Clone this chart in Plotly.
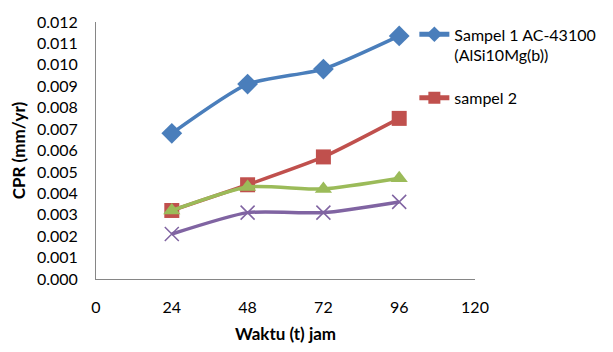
import plotly.graph_objects as go

# Exposure time (hours)
waktu = [24, 48, 72, 96]

# Corrosion penetration rate (mm/yr) per sample
sampel_1 = [0.0068, 0.0091, 0.0098, 0.01135]
sampel_2 = [0.0032, 0.0044, 0.0057, 0.0075]
sampel_3 = [0.0032, 0.0043, 0.0042, 0.0047]
sampel_4 = [0.0021, 0.0031, 0.0031, 0.0036]

names = ["Sampel 1 AC-43100<br>(AlSi10Mg(b))", "sampel 2", "sampel 3", "sampel 4"]
colors = ["#4A7EBB", "#C0504D", "#9BBB59", "#8064A2"]
symbols = ["diamond", "square", "triangle-up", "x-thin"]
sizes = [16, 15, 15, 14]
show = [True, True, False, False]

fig = go.Figure()
for i, (ys, name, c, s, sz, sl) in enumerate(zip(
        [sampel_1, sampel_2, sampel_3, sampel_4],
        names, colors, symbols, sizes, show)):
    marker = dict(symbol=s, size=sz, color=c)
    if s == "x-thin":
        marker["line"] = dict(color=c, width=1.5)
    fig.add_trace(go.Scatter(
        x=waktu, y=ys, name=name, mode="lines+markers",
        line=dict(color=c, width=3.5, shape="spline", smoothing=0.6),
        marker=marker, showlegend=sl, legendgroup=f"g{i}",
    ))

font_family = "Lato, Open Sans, sans-serif"
fig.update_layout(
    width=613, height=352,
    margin=dict(l=96, r=134, t=16, b=73),
    paper_bgcolor="white", plot_bgcolor="white",
    font=dict(family=font_family, size=16, color="#000000"),
    showlegend=True,
    legend=dict(x=0.84, y=1.018, xanchor="left", yanchor="top",
                valign="top", bgcolor="rgba(0,0,0,0)",
                font=dict(size=16), tracegroupgap=19,
                traceorder="grouped", itemsizing="constant"),
    xaxis=dict(
        range=[0, 120], tickvals=[0, 24, 48, 72, 96, 120],
        showgrid=False, zeroline=False,
        showline=True, linecolor="#868686", linewidth=1,
        ticks="outside", ticklen=14, tickcolor="rgba(0,0,0,0)",
        title=dict(text="<b>Waktu (t) jam</b>", font=dict(size=17), standoff=12),
    ),
    yaxis=dict(
        range=[0, 0.012], dtick=0.001, tickformat=".3f",
        showgrid=False, zeroline=False,
        showline=True, linecolor="#868686", linewidth=1,
        ticks="outside", ticklen=14, tickcolor="rgba(0,0,0,0)",
        title=dict(text="<b>CPR (mm/yr)</b>", font=dict(size=17), standoff=6),
    ),
)

fig.write_html("out.html")
